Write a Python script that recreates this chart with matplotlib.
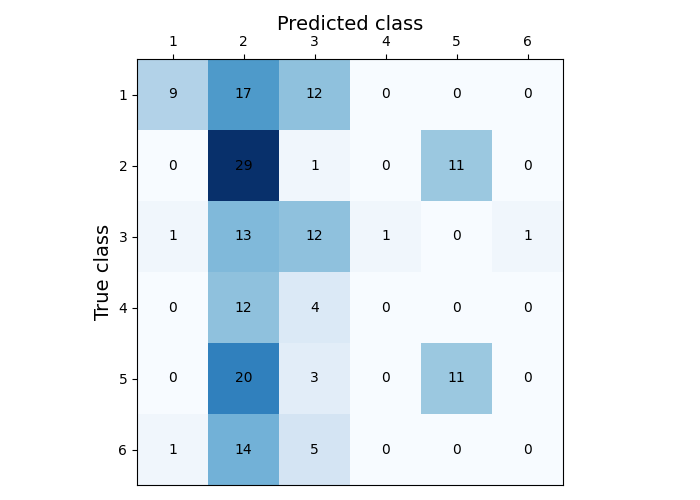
import numpy as np
import matplotlib
matplotlib.use("Agg")
import matplotlib.pyplot as plt

# confusion matrix values
class_labels = ["1", "2", "3", "4", "5", "6"]
row1 = [9, 17, 12, 0, 0, 0]
row2 = [0, 29, 1, 0, 11, 0]
row3 = [1, 13, 12, 1, 0, 1]
row4 = [0, 12, 4, 0, 0, 0]
row5 = [0, 20, 3, 0, 11, 0]
row6 = [1, 14, 5, 0, 0, 0]

cm = np.array([row1, row2, row3, row4, row5, row6])

fig = plt.figure(figsize=(7, 5), dpi=100)
ax = fig.add_axes([137 / 700, 15 / 500, 426 / 700, 426 / 500])
ax.matshow(cm, cmap="Blues")

for i in range(cm.shape[0]):
    for j in range(cm.shape[1]):
        ax.text(j, i, str(cm[i, j]), ha="center", va="center", color="black")

ax.set_xticks(np.arange(len(class_labels)))
ax.set_yticks(np.arange(len(class_labels)))
ax.set_xticklabels(class_labels)
ax.set_yticklabels(class_labels)
ax.tick_params(axis="x", bottom=False)

ax.xaxis.set_label_position("top")
ax.set_xlabel("Predicted class", fontsize=14)
ax.set_ylabel("True class", fontsize=14)

plt.savefig("out.png", dpi=100)
